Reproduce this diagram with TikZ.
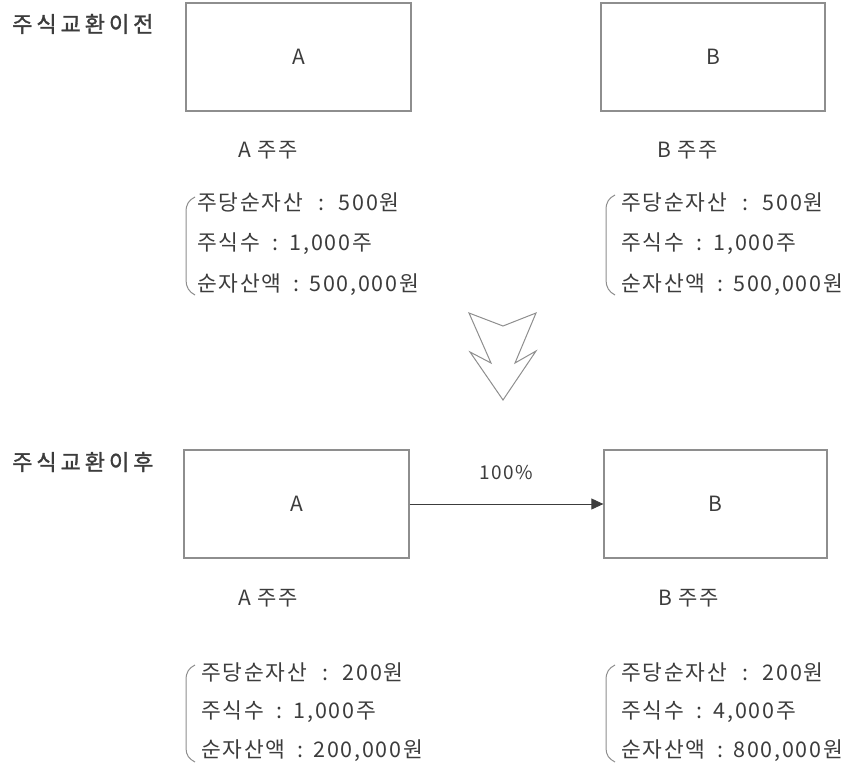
\documentclass[tikz,border=0pt]{standalone}
\usepackage{fontspec}
\setmainfont{Noto Sans CJK KR}
\newfontfamily\infofont{Noto Sans CJK KR}[LetterSpace=8]
\newfontfamily\stagefont{Noto Sans CJK KR}[LetterSpace=18,FakeBold=1.4]
\usetikzlibrary{arrows.meta}
\definecolor{txt}{HTML}{3C3C3C}
\definecolor{frame}{HTML}{8E8E8E}
\newcommand{\kvsep}[2]{\hspace{#1}:\hspace{#2}}
\begin{document}
\begin{tikzpicture}[x=1pt,y=-1pt,
  company/.style={draw=frame,line width=1.3pt,minimum height=108pt,inner sep=0pt,text=txt,font=\fontsize{21}{21}\selectfont},
  holder/.style={text=txt,font=\infofont\fontsize{21}{21}\selectfont,inner sep=0pt},
  info/.style={text=txt,font=\infofont\fontsize{21.5}{21.5}\selectfont,anchor=west,inner sep=0pt},
  stage/.style={text=txt,font=\stagefont\fontsize{22}{22}\selectfont,anchor=west,inner sep=0pt},
  brace/.style={draw=frame,line width=1pt},
  bigarrow/.style={draw=frame,line width=1pt,line join=miter}]
\useasboundingbox (0,0) rectangle (856,771);
% stage labels
\node[stage] (s1) at (12,24) {주식교환이전};
\node[stage] (s2) at (12,462) {주식교환이후};
% top companies
\node[company,minimum width=225pt] (a1) at (298.5,57) {A};
\node[company,minimum width=224pt] (b1) at (713,57) {B};
\node[holder] (ha1) at (268,150) {A 주주};
\node[holder] (hb1) at (688,150) {B 주주};
% top info
\node[info] (ia11) at (197,202) {주당순자산\kvsep{16pt}{14pt}500원};
\node[info] (ia12) at (197,244) {주식수\kvsep{13pt}{11pt}1,000주};
\node[info] (ia13) at (197,285) {순자산액\kvsep{12pt}{10pt}500,000원};
\node[info] (ib11) at (621,202) {주당순자산\kvsep{16pt}{14pt}500원};
\node[info] (ib12) at (621,244) {주식수\kvsep{13pt}{11pt}1,000주};
\node[info] (ib13) at (621,285) {순자산액\kvsep{12pt}{10pt}500,000원};
\draw[brace] (195,197) .. controls (189,200) and (186,204) .. (186,212) -- (186,280) .. controls (186,287) and (189,292) .. (195,295);
\draw[brace] (615,195) .. controls (609,198) and (606,202) .. (606,210) -- (606,280) .. controls (606,287) and (609,292) .. (615,295);
% big down arrow
\draw[bigarrow] (469,313) -- (503,326) -- (536,313) -- (515,363) -- (536,351) -- (503,400) -- (470,352) -- (491,363) -- cycle;
% bottom companies
\node[company,minimum width=225pt] (a2) at (296.5,504) {A};
\node[company,minimum width=223pt] (b2) at (715.5,504) {B};
\draw[line width=0.9pt,draw=txt,-{Triangle[length=12pt,width=11pt]}] (a2.east) -- node[above=24pt,text=txt,font=\infofont\fontsize{19}{19}\selectfont,inner sep=0pt] (pct) {100\%} (b2.west);
\node[holder] (ha2) at (268,598) {A 주주};
\node[holder] (hb2) at (689,598) {B 주주};
% bottom info
\node[info] (ia21) at (201,672) {주당순자산\kvsep{16pt}{14pt}200원};
\node[info] (ia22) at (201,712) {주식수\kvsep{13pt}{11pt}1,000주};
\node[info] (ia23) at (201,751) {순자산액\kvsep{12pt}{10pt}200,000원};
\node[info] (ib21) at (621,672) {주당순자산\kvsep{16pt}{14pt}200원};
\node[info] (ib22) at (621,712) {주식수\kvsep{13pt}{11pt}4,000주};
\node[info] (ib23) at (621,751) {순자산액\kvsep{12pt}{10pt}800,000원};
\draw[brace] (195,665) .. controls (189,668) and (186,672) .. (186,680) -- (186,748) .. controls (186,755) and (189,759) .. (195,762);
\draw[brace] (615,665) .. controls (609,668) and (606,672) .. (606,680) -- (606,748) .. controls (606,755) and (609,759) .. (615,762);
\end{tikzpicture}
\end{document}
